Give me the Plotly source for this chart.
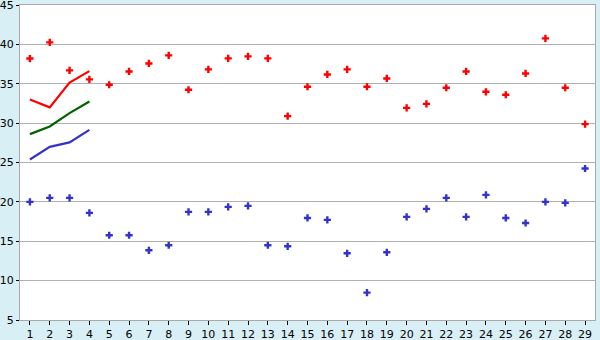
import plotly.graph_objects as go

days = list(range(1, 30))
red_pts = [38.2, 40.25, 36.7, 35.55, 34.87, 36.56, 37.58, 38.6, 34.24, 36.82,
           38.22, 38.47, 38.22, 30.89, 34.62, 36.18, 36.82, 34.62, 35.67, 31.94,
           32.45, 34.49, 36.56, 33.98, 33.6, 36.31, 40.76, 34.49, 29.87]
blue_pts = [20.0, 20.51, 20.51, 18.6, 15.76, 15.76, 13.85, 14.49, 18.73, 18.73,
            19.36, 19.49, 14.49, 14.36, 17.96, 17.71, 13.47, 8.47, 13.6, 18.09,
            19.11, 20.51, 18.09, 20.89, 17.96, 17.32, 20.0, 19.87, 24.24]
line_days = [1, 2, 3, 4]
red_line = [33.0, 32.0, 35.15, 36.6]
green_line = [28.6, 29.58, 31.27, 32.75]
blue_line = [25.38, 26.99, 27.55, 29.15]
y_ticks = [5, 10, 15, 20, 25, 30, 35, 40, 45]

fig = go.Figure()
fig.add_trace(go.Scatter(x=line_days, y=red_line, mode="lines",
                         line=dict(color="#ff0000", width=2.2)))
fig.add_trace(go.Scatter(x=line_days, y=green_line, mode="lines",
                         line=dict(color="#006400", width=2.2)))
fig.add_trace(go.Scatter(x=line_days, y=blue_line, mode="lines",
                         line=dict(color="#3333cc", width=2.2)))
fig.add_trace(go.Scatter(x=days, y=red_pts, mode="markers",
                         marker=dict(symbol="cross", size=6, color="#ff0000", line=dict(width=0))))
fig.add_trace(go.Scatter(x=days, y=blue_pts, mode="markers",
                         marker=dict(symbol="cross", size=6, color="#3333cc", line=dict(width=0))))

fig.update_layout(
    width=600, height=340,
    margin=dict(l=20, r=5, t=5, b=20),
    paper_bgcolor="#d9eff6",
    plot_bgcolor="#ffffff",
    showlegend=False,
    font=dict(family="DejaVu Sans", size=11, color="#000000"),
)
fig.update_xaxes(range=[0.5, 29.5], tickvals=days, ticktext=[str(d) for d in days],
                 showgrid=False, zeroline=False, showline=True, linecolor="#a8a8a8",
                 linewidth=1, mirror=True, ticks="outside", ticklen=4, tickcolor="#000000",
                 tickfont=dict(size=11), automargin=False, ticklabeloverflow="allow")
fig.update_yaxes(range=[5, 45], tickvals=y_ticks, showgrid=True, gridcolor="#b0b0b0",
                 gridwidth=1, zeroline=False, showline=True, linecolor="#a8a8a8",
                 linewidth=1, mirror=True, ticks="outside", ticklen=3, tickcolor="#000000",
                 tickfont=dict(size=11), automargin=False, ticklabeloverflow="allow")

fig.write_html("out.html")
